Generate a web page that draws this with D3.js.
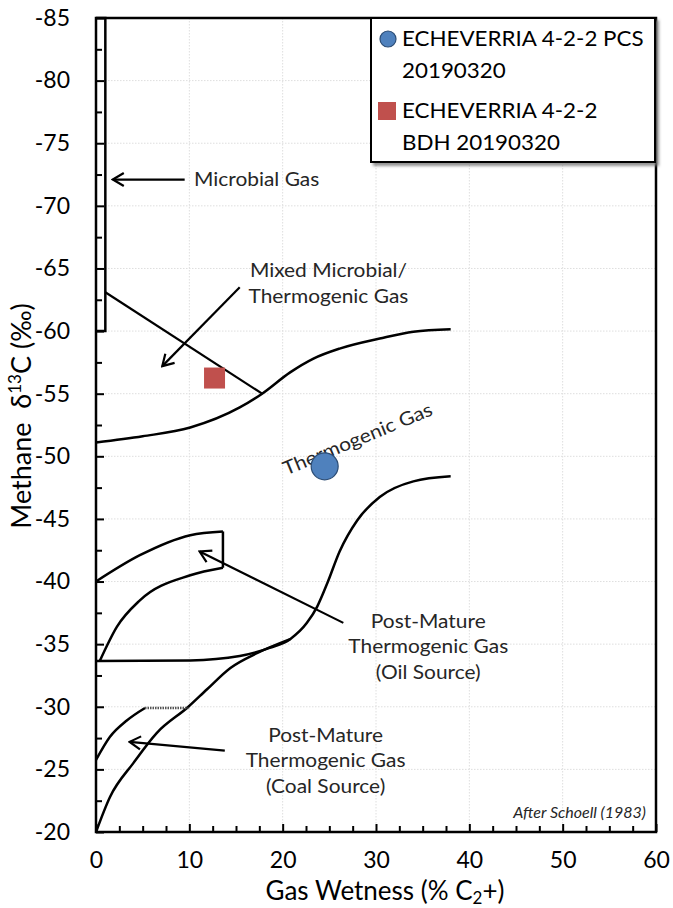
<!DOCTYPE html>
<html>
<head>
<meta charset="utf-8">
<script src="https://cdn.jsdelivr.net/npm/d3@7"></script>
<style>
  body { margin: 0; background: #fff; }
  svg { display: block; font-family: Lato, "Open Sans", sans-serif; }
</style>
</head>
<body>
<svg id="chart"></svg>
<script>
// ---- data (gas wetness %, methane d13C permil) ----
const xMajor = [0, 10, 20, 30, 40, 50, 60];
const yMajor = [-85, -80, -75, -70, -65, -60, -55, -50, -45, -40, -35, -30, -25, -20];
const xGrid = [10, 20, 30, 40, 50];
const yGrid = [-80, -75, -70, -65, -60, -55, -50, -45, -40, -35, -30, -25];

const microbialBox = [[0, -85], [1, -85], [1, -60], [0, -60]];
const mixedLine = [[1, -63.1], [17.8, -55.0]];
const thermoUpper = [[0, -51.1], [5, -51.6], [10.1, -52.3], [15.4, -53.9], [17.8, -55.0],
  [20.8, -56.7], [23.3, -57.8], [26.1, -58.6], [30.4, -59.4], [34, -59.95], [38, -60.15]];
const thermoLower = [[0, -33.65], [10.1, -33.7], [15.4, -34.05], [18.6, -34.7], [20.8, -35.4],
  [22.6, -36.7], [23.7, -38.0], [24.8, -39.9], [26.1, -42.4], [28, -44.9], [30.4, -46.75],
  [34, -48.0], [38, -48.4]];
const oilUpper = [[0, -40.0], [4.7, -42.1], [10.1, -43.7], [13.6, -44.0]];
const oilSide = [[13.6, -44.0], [13.6, -41.1]];
const oilLower = [[0.4, -33.65], [2.25, -36.4], [4.7, -38.5], [10.1, -40.5], [13.6, -41.1]];
const coalLower = [[0, -20], [1.5, -22.8], [4, -25.5], [6.5, -27.9], [9.9, -30.0], [11.9, -31.4],
  [14.4, -33.1], [17.3, -34.3], [20.8, -35.4]];
const coalUpper = [[0, -25.75], [1.5, -27.6], [3.3, -28.9], [5.25, -29.9]];
const coalTop = [[5.25, -29.9], [9.9, -29.9]];

const arrows = [
  { from: [9.5, -72.1], to: [1.8, -72.1] },
  { from: [15.4, -63.5], to: [7.1, -57.2] },
  { from: [26.5, -36.7], to: [11.1, -42.4] },
  { from: [13.8, -26.5], to: [3.6, -27.2] }
];

const labels = [
  { lines: ["Microbial Gas"], x: 10.5, y: -71.6, anchor: "start" },
  { lines: ["Mixed Microbial/", "Thermogenic Gas"], x: 24.9, y: -64.3, anchor: "middle" },
  { lines: ["Post-Mature", "Thermogenic Gas", "(Oil Source)"], x: 35.6, y: -36.3, anchor: "middle" },
  { lines: ["Post-Mature", "Thermogenic Gas", "(Coal Source)"], x: 24.6, y: -27.2, anchor: "middle" }
];

const samples = [
  { name: ["ECHEVERRIA 4-2-2 PCS", "20190320"], shape: "circle", color: "#4F81BD", stroke: "#2C4D75", x: 24.5, y: -49.2 },
  { name: ["ECHEVERRIA 4-2-2", "BDH 20190320"], shape: "square", color: "#C0504D", stroke: "#C0504D", x: 12.7, y: -56.25 }
];

// ---- layout ----
const width = 673, height = 908;
const svg = d3.select("#chart").attr("width", width).attr("height", height);

const x = d3.scaleLinear().domain([0, 60]).range([96, 656]);
const y = d3.scaleLinear().domain([-85, -20]).range([18, 832]);

const defs = svg.append("defs");
defs.append("marker")
  .attr("id", "arrow")
  .attr("viewBox", "-14 -8 16 16")
  .attr("markerUnits", "userSpaceOnUse")
  .attr("markerWidth", 16).attr("markerHeight", 16)
  .attr("refX", 0).attr("refY", 0)
  .attr("orient", "auto")
  .append("path")
  .attr("d", "M-11,-6.5 L0,0 L-11,6.5")
  .attr("fill", "none").attr("stroke", "#000").attr("stroke-width", 2.2);

const shadow = defs.append("filter").attr("id", "shadow")
  .attr("x", "-5%").attr("y", "-5%").attr("width", "115%").attr("height", "120%");
shadow.append("feDropShadow").attr("dx", 3).attr("dy", 3).attr("stdDeviation", 1.8)
  .attr("flood-color", "#777").attr("flood-opacity", 0.8);

// gridlines
svg.append("g").selectAll("line").data(xGrid).join("line")
  .attr("x1", d => x(d)).attr("x2", d => x(d)).attr("y1", y(-85)).attr("y2", y(-20))
  .attr("stroke", "#dedede").attr("stroke-dasharray", "1.5,1.5");
svg.append("g").selectAll("line").data(yGrid).join("line")
  .attr("y1", d => y(d)).attr("y2", d => y(d)).attr("x1", x(0)).attr("x2", x(60))
  .attr("stroke", "#dedede").attr("stroke-dasharray", "1.5,1.5");

// axes (ticks inside)
const yMinor = d3.range(-82.5, -20, 5);
const xMinor = d3.range(0, 60.1, 2.5).filter(d => d % 10 !== 0);

svg.append("g").attr("transform", `translate(${x(0)},0)`)
  .call(d3.axisLeft(y).tickValues(yMajor).tickSizeInner(-8).tickSizeOuter(0).tickPadding(26)
    .tickFormat(d => String(d)));
svg.append("g").attr("transform", `translate(${x(0)},0)`)
  .call(d3.axisLeft(y).tickValues(yMinor).tickSizeInner(-6).tickSizeOuter(0).tickFormat(""));
svg.append("g").attr("transform", `translate(0,${y(-20)})`)
  .call(d3.axisBottom(x).tickValues(xMajor).tickSizeInner(-8).tickSizeOuter(0).tickPadding(20)
    .tickFormat(d => String(d)));
svg.append("g").attr("transform", `translate(0,${y(-20)})`)
  .call(d3.axisBottom(x).tickValues(xMinor).tickSizeInner(-6).tickSizeOuter(0).tickFormat(""));

svg.selectAll(".domain").remove();
svg.selectAll(".tick line").attr("stroke", "#000").attr("stroke-width", 2);
svg.selectAll(".tick text").attr("font-size", 23).attr("fill", "#000").attr("font-family", "Lato, sans-serif");

// frame
svg.append("rect")
  .attr("x", x(0)).attr("y", y(-85)).attr("width", x(60) - x(0)).attr("height", y(-20) - y(-85))
  .attr("fill", "none").attr("stroke", "#000").attr("stroke-width", 2.5);

// field boundaries
const line = d3.line().x(d => x(d[0])).y(d => y(d[1]));
const smooth = d3.line().x(d => x(d[0])).y(d => y(d[1])).curve(d3.curveMonotoneX);

const fields = svg.append("g").attr("fill", "none").attr("stroke", "#000").attr("stroke-width", 2.5);
fields.append("path").attr("d", line(microbialBox));
fields.append("path").attr("d", line(mixedLine)).attr("stroke-width", 2.2);
fields.append("path").attr("d", smooth(thermoUpper));
fields.append("path").attr("d", smooth(thermoLower));
fields.append("path").attr("d", smooth(oilUpper));
fields.append("path").attr("d", line(oilSide));
fields.append("path").attr("d", smooth(oilLower));
fields.append("path").attr("d", smooth(coalLower));
fields.append("path").attr("d", smooth(coalUpper));
fields.append("path").attr("d", line(coalTop)).attr("stroke", "#555").attr("stroke-dasharray", "1.5,1");

// arrows
svg.append("g").selectAll("line").data(arrows).join("line")
  .attr("x1", d => x(d.from[0])).attr("y1", d => y(d.from[1]))
  .attr("x2", d => x(d.to[0])).attr("y2", d => y(d.to[1]))
  .attr("stroke", "#000").attr("stroke-width", 2.2)
  .attr("marker-end", "url(#arrow)");

// annotation labels (slightly widened, like the original)
const lab = svg.append("g").attr("font-size", 19).attr("fill", "#262626");
labels.forEach(l => {
  const g = lab.append("g").attr("transform", `translate(${x(l.x)},${y(l.y)}) scale(1.1,1)`);
  const t = g.append("text").attr("text-anchor", l.anchor);
  l.lines.forEach((s, i) => {
    t.append("tspan").attr("x", 0).attr("dy", i === 0 ? 0 : 25.5).text(s);
  });
});
lab.append("text")
  .attr("transform", `translate(${x(28.3)},${y(-50.9)}) rotate(-22.5) scale(1.1,1)`)
  .attr("text-anchor", "middle")
  .text("Thermogenic Gas");

svg.append("text")
  .attr("x", 646).attr("y", 818).attr("text-anchor", "end")
  .attr("font-size", 16).attr("font-style", "italic").attr("fill", "#262626")
  .text("After Schoell (1983)");

// sample points
const pts = svg.append("g");
samples.forEach(s => {
  if (s.shape === "circle") {
    pts.append("circle").attr("cx", x(s.x)).attr("cy", y(s.y)).attr("r", 13.5)
      .attr("fill", s.color).attr("stroke", s.stroke).attr("stroke-width", 1.2);
  } else {
    pts.append("rect").attr("x", x(s.x) - 10.5).attr("y", y(s.y) - 10.5)
      .attr("width", 21).attr("height", 21).attr("fill", s.color);
  }
});

// legend
const lg = svg.append("g");
lg.append("rect").attr("x", 371).attr("y", 18).attr("width", 284).attr("height", 144)
  .attr("fill", "#fff").attr("stroke", "#000").attr("stroke-width", 2).attr("filter", "url(#shadow)");
samples.forEach((s, i) => {
  const top = 18 + i * 72;
  if (s.shape === "circle") {
    lg.append("circle").attr("cx", 388).attr("cy", top + 21).attr("r", 8)
      .attr("fill", s.color).attr("stroke", s.stroke).attr("stroke-width", 1.2);
  } else {
    lg.append("rect").attr("x", 378).attr("y", top + 12).attr("width", 18).attr("height", 18)
      .attr("fill", s.color);
  }
  const g = lg.append("g").attr("transform", `translate(402,${top + 28}) scale(1.04,1)`);
  const t = g.append("text").attr("font-size", 21.5).attr("fill", "#000");
  s.name.forEach((n, j) => {
    t.append("tspan").attr("x", 0).attr("y", j * 32).text(n);
  });
});

// axis titles
const yt = svg.append("text")
  .attr("transform", `translate(31,416) rotate(-90)`)
  .attr("text-anchor", "middle").attr("font-size", 27).attr("fill", "#000");
yt.append("tspan").text("Methane\u00a0 \u03b4");
yt.append("tspan").attr("font-size", 17).attr("dy", -10).text("13");
yt.append("tspan").attr("dy", 10).text("C (\u2030)");

const xt = svg.append("text")
  .attr("x", 385).attr("y", 900)
  .attr("text-anchor", "middle").attr("font-size", 26).attr("fill", "#000");
xt.append("tspan").text("Gas Wetness (% C");
xt.append("tspan").attr("font-size", 17).attr("dy", 4).text("2");
xt.append("tspan").attr("dy", -4).text("+)");
</script>
</body>
</html>
